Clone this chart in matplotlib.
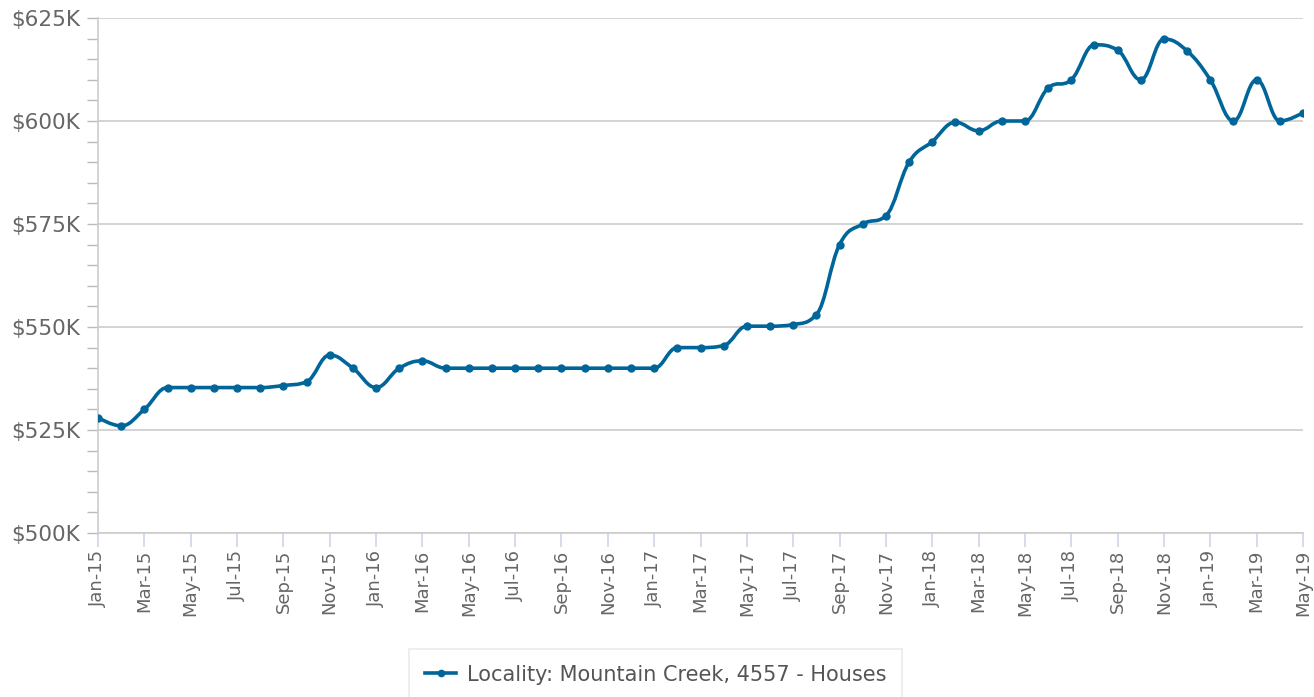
import numpy as np
import matplotlib.pyplot as plt
from matplotlib.path import Path
from matplotlib.patches import PathPatch
from matplotlib.ticker import MultipleLocator, FuncFormatter

# monthly median values, Jan-15 .. May-19 (in $K)
months = ["Jan", "Feb", "Mar", "Apr", "May", "Jun", "Jul", "Aug", "Sep", "Oct", "Nov", "Dec"]
years = ["15", "16", "17", "18", "19"]
values = [528, 526, 530, 535.3, 535.3, 535.3, 535.3, 535.3, 535.8, 536.7, 543.2, 540,
          535.3, 540, 541.8, 540, 540, 540, 540, 540, 540, 540, 540, 540,
          540, 545, 545, 545.5, 550.2, 550.2, 550.6, 553, 570, 575, 577, 590,
          595, 599.7, 597.6, 600, 600, 608, 610, 618.5, 617.2, 610, 619.9, 617,
          610, 600, 610, 600, 602]
series_name = "Locality: Mountain Creek, 4557 - Houses"

labels = [m + "-" + y for y in years for m in months][:len(values)]
x = np.arange(len(values))
y = np.array(values) * 1000

color = "#006699"
grey = "#666666"


def spline_path(xs, ys, smoothing=1.5):
    # highcharts-style spline: cubic bezier with flattened extremes
    n = len(xs)
    verts = [(xs[0], ys[0])]
    codes = [Path.MOVETO]
    conts = []
    for i in range(n):
        if i == 0 or i == n - 1:
            conts.append(((xs[i], ys[i]), (xs[i], ys[i])))
            continue
        d = smoothing + 1
        lx = (smoothing * xs[i] + xs[i - 1]) / d
        ly = (smoothing * ys[i] + ys[i - 1]) / d
        rx = (smoothing * xs[i] + xs[i + 1]) / d
        ry = (smoothing * ys[i] + ys[i + 1]) / d
        corr = (ry - ly) * (rx - xs[i]) / (rx - lx) + ys[i] - ry
        ly += corr
        ry += corr
        if ly > ys[i - 1] and ly > ys[i]:
            ly = max(ys[i - 1], ys[i]); ry = 2 * ys[i] - ly
        elif ly < ys[i - 1] and ly < ys[i]:
            ly = min(ys[i - 1], ys[i]); ry = 2 * ys[i] - ly
        if ry > ys[i + 1] and ry > ys[i]:
            ry = max(ys[i + 1], ys[i]); ly = 2 * ys[i] - ry
        elif ry < ys[i + 1] and ry < ys[i]:
            ry = min(ys[i + 1], ys[i]); ly = 2 * ys[i] - ry
        conts.append(((lx, ly), (rx, ry)))
    for i in range(1, n):
        verts += [conts[i - 1][1], conts[i][0], (xs[i], ys[i])]
        codes += [Path.CURVE4] * 3
    return Path(verts, codes)


fig = plt.figure(figsize=(13.14, 6.97), dpi=100)
ax = fig.add_axes([98 / 1314, 1 - 533 / 697, 1205 / 1314, 515 / 697])

ax.add_patch(PathPatch(spline_path(x, y), facecolor="none", edgecolor=color,
                       lw=2.6, zorder=3, capstyle="round", joinstyle="round"))
ax.plot(x, y, "o", color=color, ms=5, zorder=4)
ax.plot([], [], "-o", color=color, lw=2.6, ms=4.5, label=series_name)

ax.set_xlim(0, len(values) - 1)
ax.set_ylim(500000, 625000)
ax.yaxis.set_major_locator(MultipleLocator(25000))
ax.yaxis.set_minor_locator(MultipleLocator(5000))
ax.yaxis.set_major_formatter(FuncFormatter(lambda v, p: "${:.0f}K".format(v / 1000)))
ax.set_xticks(x[::2])
ax.set_xticklabels(labels[::2], rotation=90)

ax.grid(axis="y", color="#cccccc", lw=1.2)
ax.set_axisbelow(True)
for s in ["top", "right"]:
    ax.spines[s].set_visible(False)
ax.spines["left"].set_color("#cccccc")
ax.spines["bottom"].set_color("#cccccc")
ax.spines["left"].set_linewidth(1.2)
ax.spines["bottom"].set_linewidth(1.2)

ax.tick_params(axis="y", which="both", colors="#bbbbbb", length=8, width=1,
               labelcolor=grey, labelsize=15.5, pad=5)
ax.tick_params(axis="x", colors="#ccd6eb", length=10, width=1.2,
               labelcolor=grey, labelsize=13, pad=2)

leg = fig.legend(loc="upper center", bbox_to_anchor=(0.499, 1 - 649 / 697),
                 frameon=True, fontsize=15, handlelength=1.5, handletextpad=0.5,
                 borderpad=0.75, labelcolor="#555555", fancybox=False,
                 borderaxespad=0)
leg.get_frame().set_edgecolor("#e6e6e6")
leg.get_frame().set_linewidth(1.2)

fig.savefig("out.png", dpi=100)
